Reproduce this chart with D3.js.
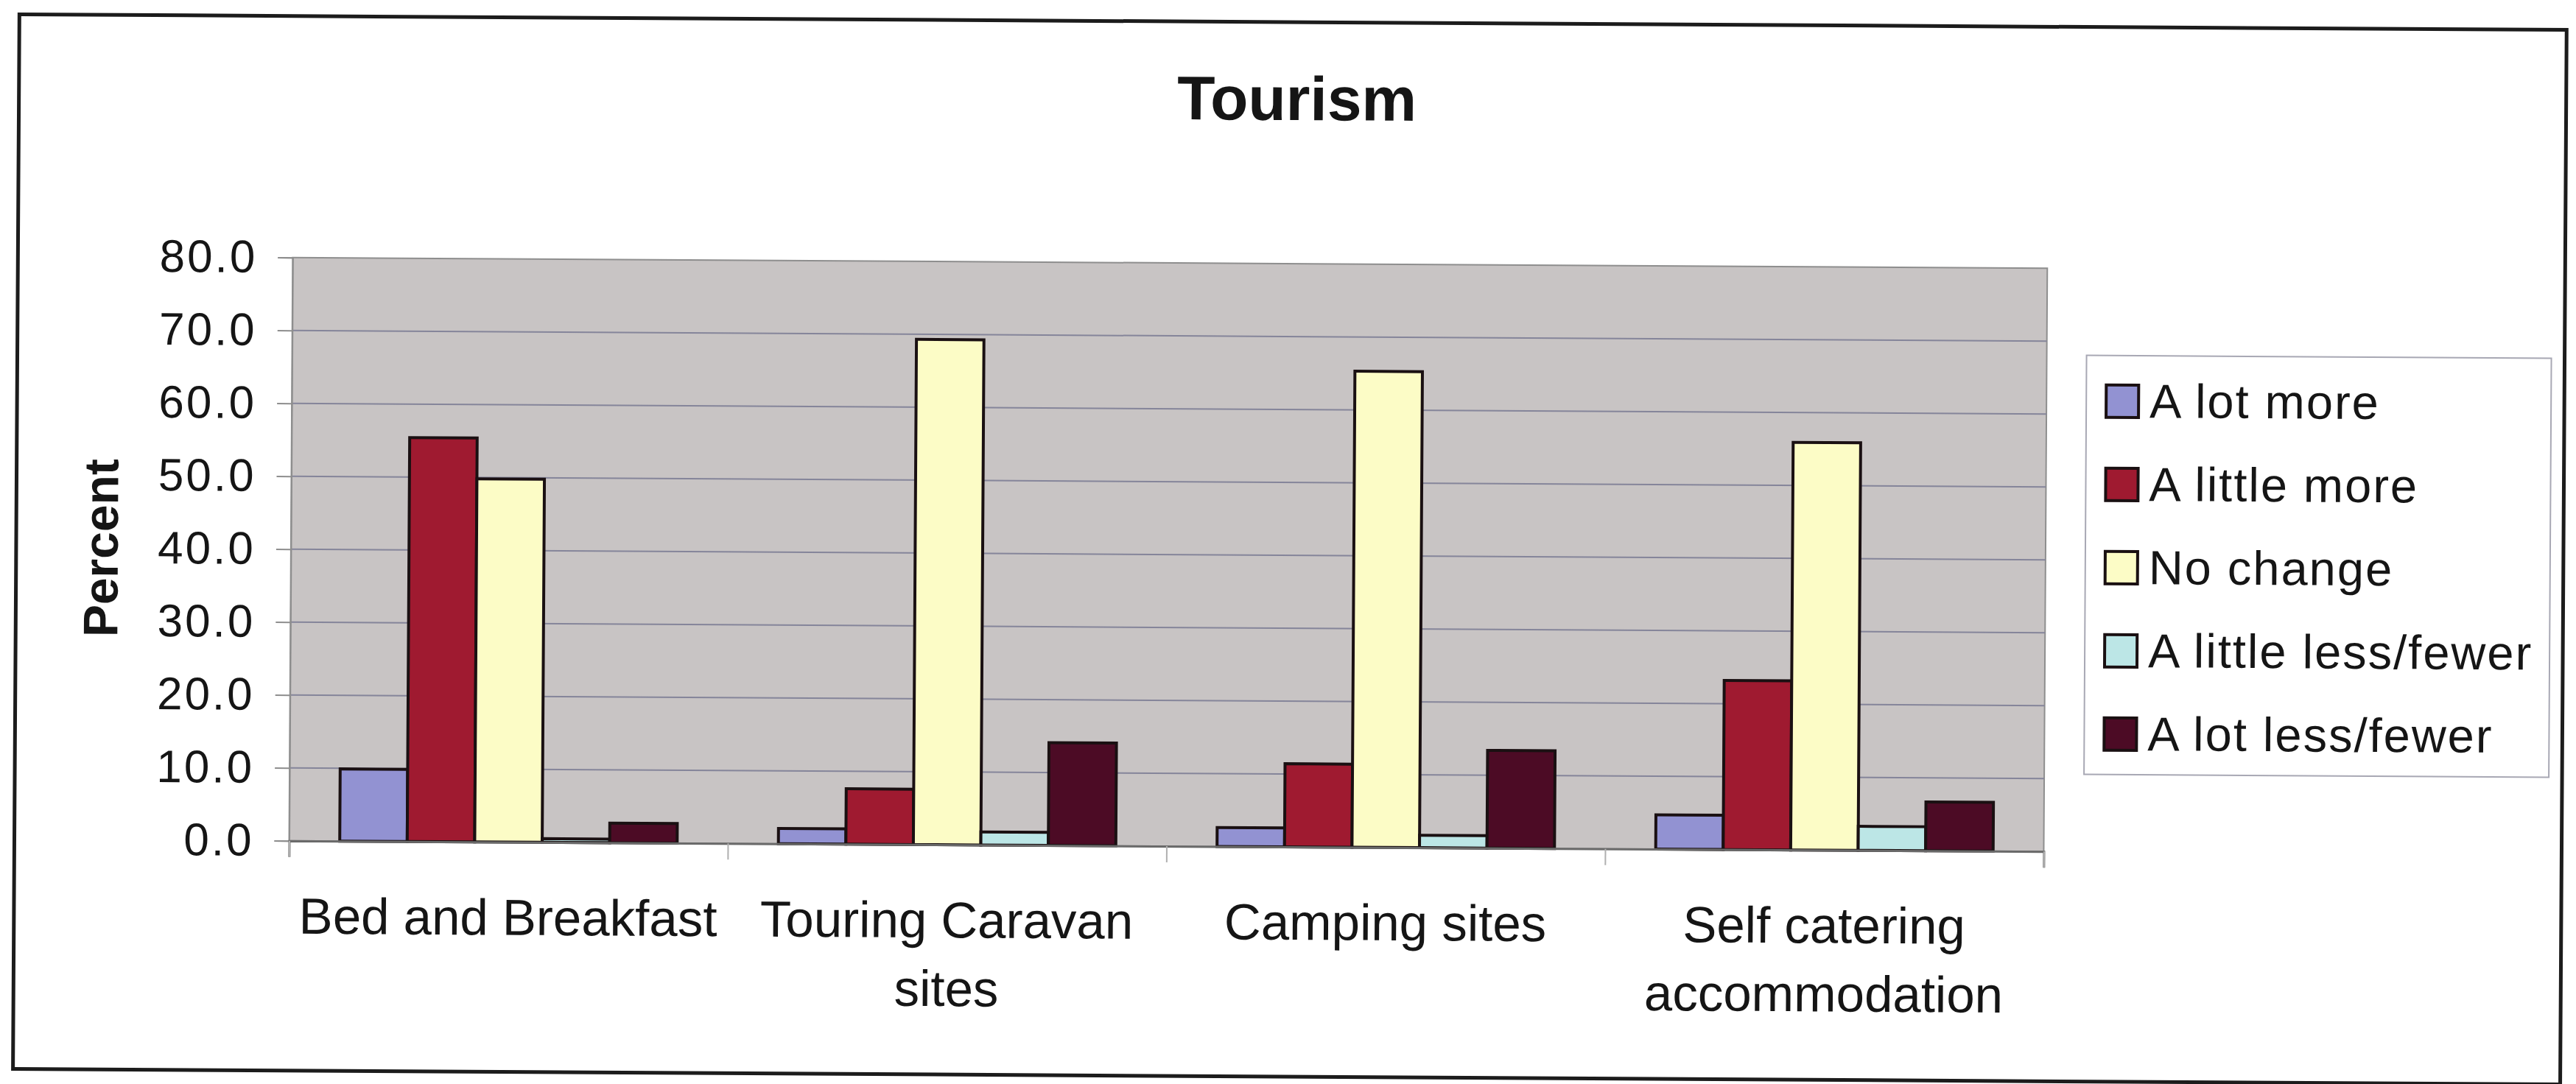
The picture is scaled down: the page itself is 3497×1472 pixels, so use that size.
<!DOCTYPE html>
<html>
<head>
<meta charset="utf-8">
<script src="https://cdn.jsdelivr.net/npm/d3@7/dist/d3.min.js"></script>
<style>
  body { margin: 0; background: #fff; }
  text { font-family: "Liberation Sans", Arial, sans-serif; fill: #151515; }
</style>
</head>
<body>
<div id="chart"></div>
<script>
// data
var categories = ["Bed and Breakfast", "Touring Caravan sites", "Camping sites", "Self catering accommodation"];
var categoryLines = [["Bed and Breakfast"], ["Touring Caravan", "sites"], ["Camping sites"], ["Self catering", "accommodation"]];
var series = ["A lot more", "A little more", "No change", "A little less/fewer", "A lot less/fewer"];
var aLotMore = [9.9, 2.1, 2.6, 4.7];
var aLittleMore = [55.4, 7.6, 11.4, 23.2];
var noChange = [49.8, 69.3, 65.3, 55.9];
var aLittleLess = [0.5, 1.8, 1.7, 3.3];
var aLotLess = [2.7, 14.1, 13.4, 6.7];
var yTicks = [0, 10, 20, 30, 40, 50, 60, 70, 80];
var colors = ["#9292d2", "#9f1a30", "#fcfcc6", "#bce6e6", "#4c0b25"];

var values = [aLotMore, aLittleMore, noChange, aLittleLess, aLotLess];

var W = 3497, H = 1472;
var plotLeft = 395, plotRight = 2777, plotTop = 358, plotBottom = 1150;

var svg = d3.select("#chart").append("svg")
  .attr("width", W)
  .attr("height", H);

// the scan is slightly tilted
var root = svg.append("g")
  .attr("transform", "rotate(0.35," + (W / 2) + "," + (H / 2) + ")");

// outer frame
root.append("rect")
  .attr("x", 22)
  .attr("y", 30)
  .attr("width", 3458)
  .attr("height", 1432)
  .attr("fill", "#fff")
  .attr("stroke", "#1c1c1c")
  .attr("stroke-width", 5);

var x0 = d3.scaleBand().domain(categories).range([plotLeft, plotRight]);
var x1 = d3.scaleBand().domain(series).range([0, x0.bandwidth()]).paddingOuter(0.75);
var y = d3.scaleLinear().domain([0, 80]).range([plotBottom, plotTop]);
var color = d3.scaleOrdinal().domain(series).range(colors);

// plot area
root.append("rect")
  .attr("x", plotLeft)
  .attr("y", plotTop)
  .attr("width", plotRight - plotLeft)
  .attr("height", plotBottom - plotTop)
  .attr("fill", "#c8c4c4")
  .attr("stroke", "#8e8e8e")
  .attr("stroke-width", 2);

// gridlines
root.append("g")
  .selectAll("line")
  .data(yTicks.slice(1, -1))
  .enter().append("line")
    .attr("x1", plotLeft)
    .attr("x2", plotRight)
    .attr("y1", function(d) { return y(d); })
    .attr("y2", function(d) { return y(d); })
    .attr("stroke", "#85859a")
    .attr("stroke-width", 2);

// y axis
var yAxis = root.append("g")
  .attr("transform", "translate(" + plotLeft + ",0)")
  .call(d3.axisLeft(y).tickValues(yTicks).tickFormat(d3.format(".1f")).tickSize(20).tickPadding(28));
yAxis.select(".domain").attr("stroke", "#8e8e8e").attr("stroke-width", 2);
yAxis.selectAll(".tick line").attr("stroke", "#8e8e8e").attr("stroke-width", 2);
yAxis.selectAll(".tick text")
  .style("font-size", "62px")
  .style("letter-spacing", "3px")
  .attr("fill", "#2a2a2a");

// bars
root.append("g")
  .selectAll("g")
  .data(categories)
  .enter().append("g")
    .attr("transform", function(d) { return "translate(" + x0(d) + ",0)"; })
  .selectAll("rect")
  .data(function(d, i) { return series.map(function(s, j) { return {s: s, v: values[j][i]}; }); })
  .enter().append("rect")
    .attr("x", function(d) { return x1(d.s); })
    .attr("y", function(d) { return y(d.v); })
    .attr("width", x1.bandwidth())
    .attr("height", function(d) { return y(0) - y(d.v); })
    .attr("fill", function(d) { return color(d.s); })
    .attr("stroke", "#1a1012")
    .attr("stroke-width", 4);

// x axis: baseline and ticks between categories
var xb = d3.scaleLinear().domain([0, categories.length]).range([plotLeft, plotRight]);
var xAxis = root.append("g")
  .attr("transform", "translate(0," + plotBottom + ")")
  .call(d3.axisBottom(xb).tickValues(d3.range(categories.length + 1)).tickFormat("").tickSize(22));
xAxis.select(".domain").attr("stroke", "#6a6a6a").attr("stroke-width", 3);
xAxis.selectAll(".tick line").attr("stroke", "#b0b0b0").attr("stroke-width", 2);

// category labels
root.append("g")
  .selectAll("text")
  .data(categories)
  .enter().append("text")
    .attr("y", 1276)
    .attr("text-anchor", "middle")
    .style("font-size", "69px")
    .selectAll("tspan")
    .data(function(d, i) { return categoryLines[i].map(function(t) { return {c: d, t: t}; }); })
    .enter().append("tspan")
      .attr("x", function(d) { return x0(d.c) + x0.bandwidth() / 2; })
      .attr("dy", function(d, i) { return i === 0 ? 0 : 93; })
      .text(function(d) { return d.t; });

// title
root.append("text")
  .text("Tourism")
  .attr("x", 1757)
  .attr("y", 163)
  .attr("text-anchor", "middle")
  .style("font-size", "84px")
  .style("font-weight", "bold");

// y axis title
root.append("text")
  .text("Percent")
  .attr("transform", "translate(160," + ((plotTop + plotBottom) / 2) + ") rotate(-90)")
  .attr("text-anchor", "middle")
  .style("font-size", "66px")
  .style("font-weight", "bold");

// legend
var legend = root.append("g")
  .attr("transform", "translate(2831,476)");

legend.append("rect")
  .attr("width", 631)
  .attr("height", 569)
  .attr("fill", "#fff")
  .attr("stroke", "#a8a8b4")
  .attr("stroke-width", 2);

var item = legend.selectAll(".item")
  .data(series)
  .enter().append("g")
    .attr("class", "item")
    .attr("transform", function(d, i) { return "translate(0," + (62 + i * 113) + ")"; });

item.append("rect")
  .attr("x", 27)
  .attr("y", -22)
  .attr("width", 44)
  .attr("height", 44)
  .attr("fill", function(d) { return color(d); })
  .attr("stroke", "#1a1012")
  .attr("stroke-width", 4);

item.append("text")
  .text(function(d) { return d; })
  .attr("x", 86)
  .attr("y", 22)
  .style("font-size", "65px")
  .style("letter-spacing", "2px");
</script>
</body>
</html>
